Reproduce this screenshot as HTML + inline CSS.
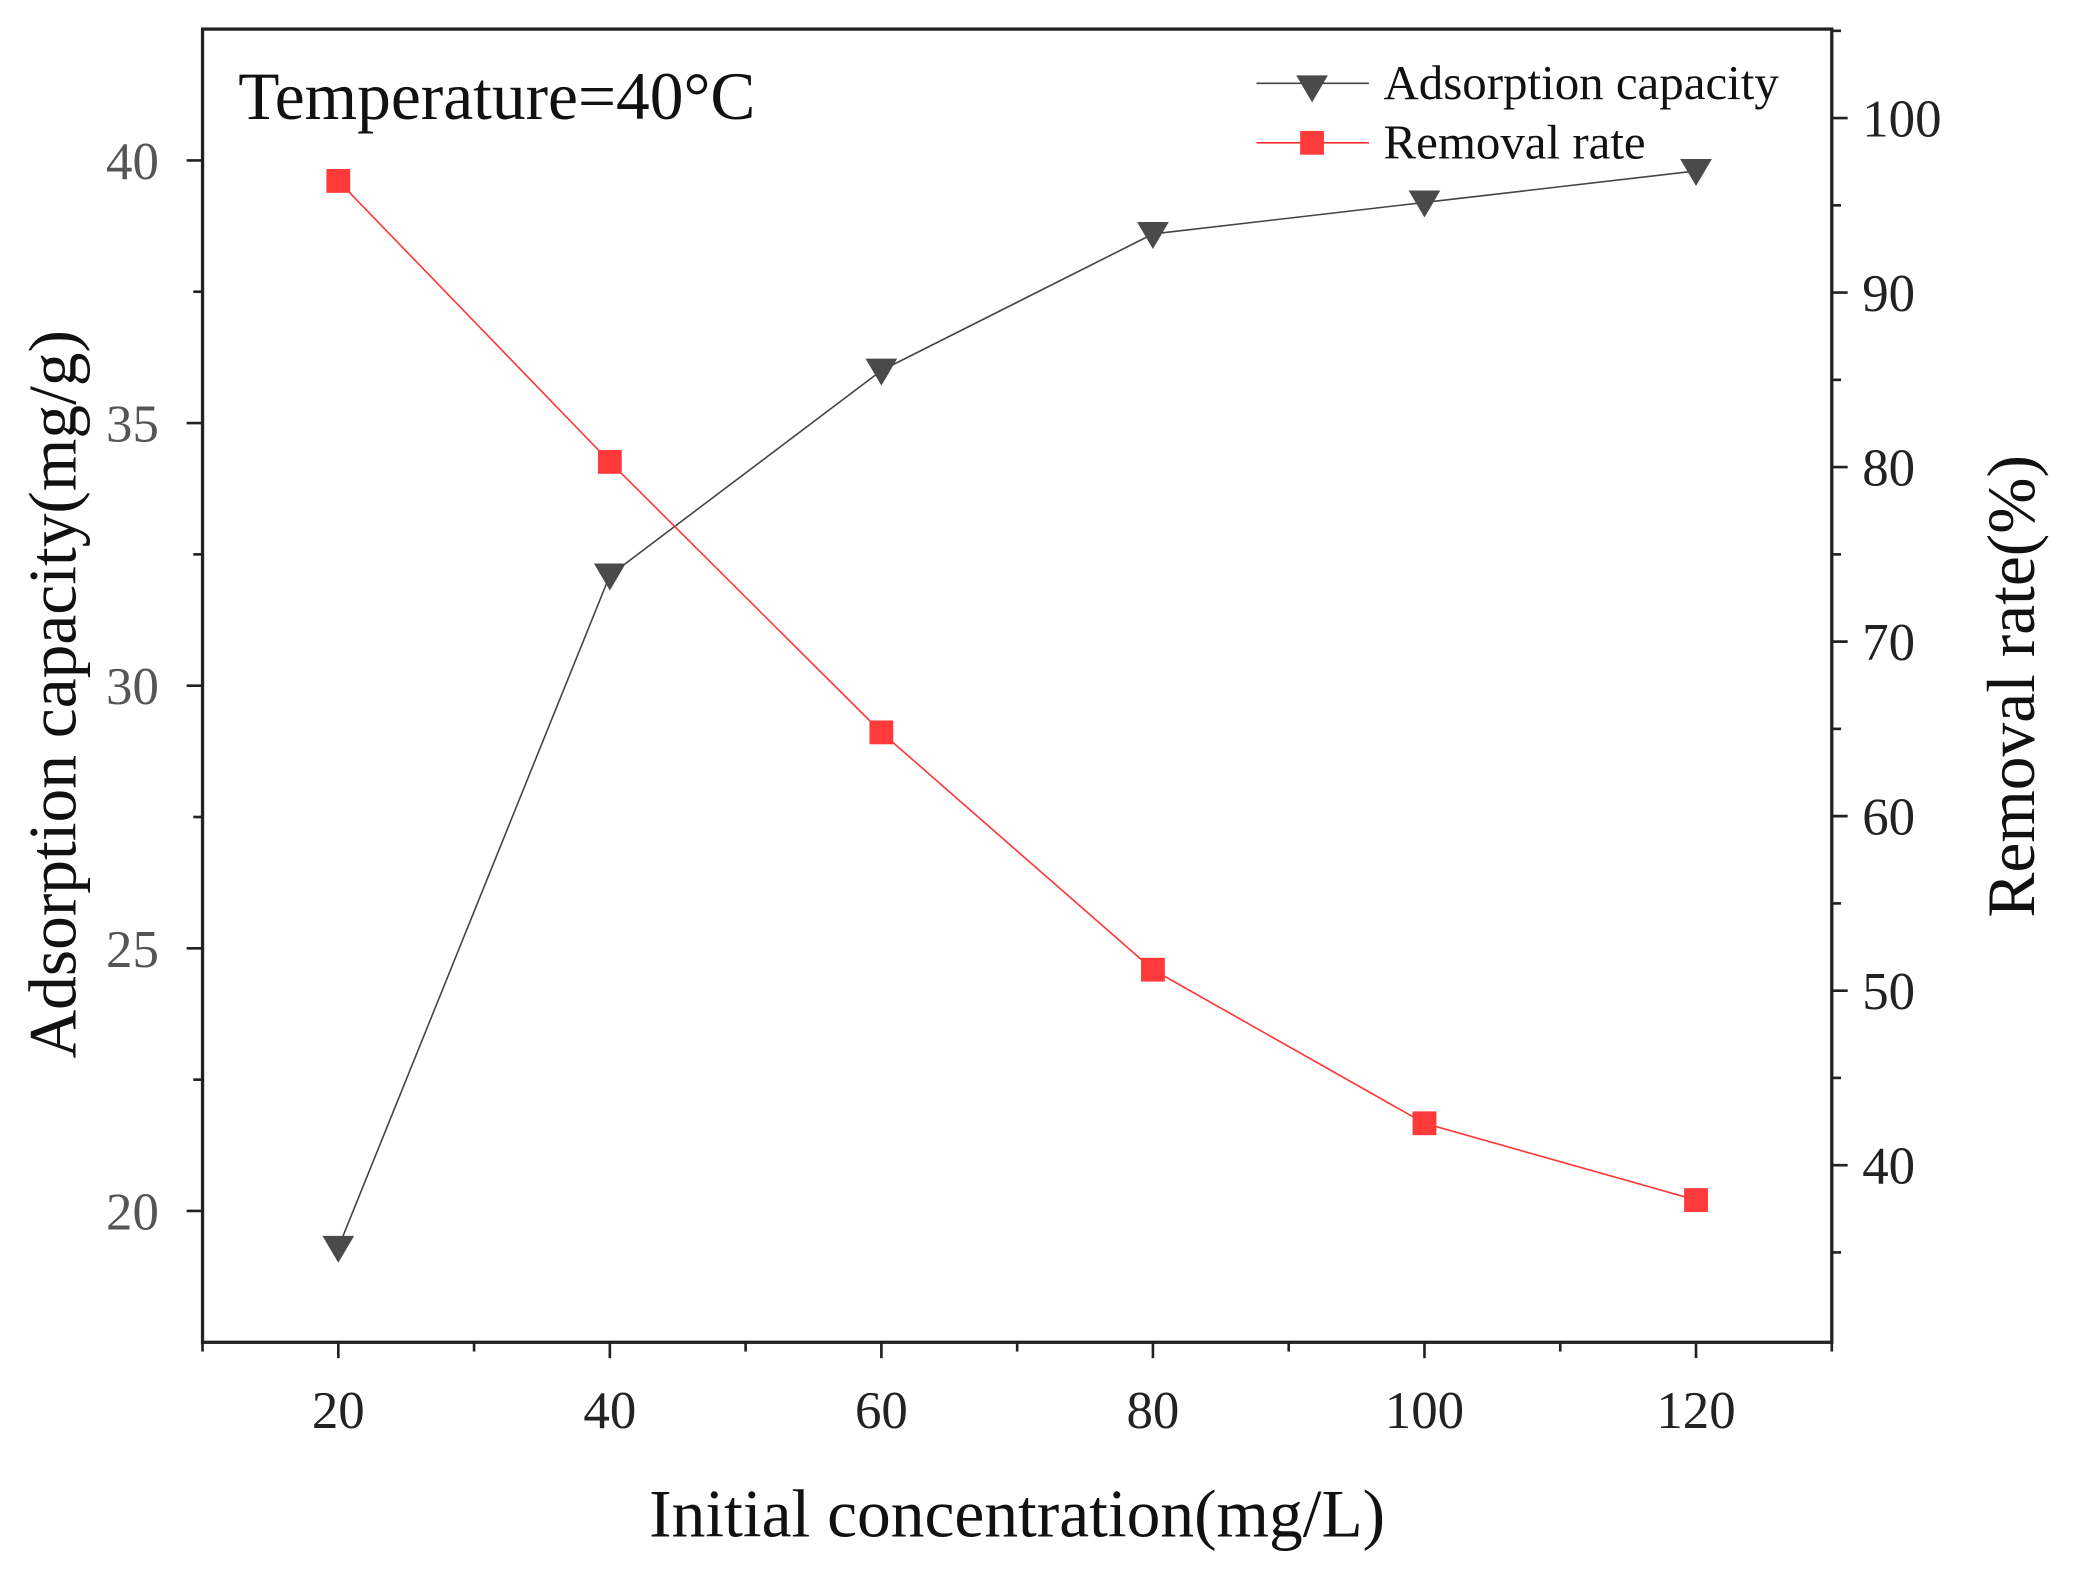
<!DOCTYPE html>
<html><head><meta charset="utf-8"><style>
html,body{margin:0;padding:0;background:#fff;}
svg{display:block;font-family:"Liberation Serif",serif;}
</style></head><body>
<svg id="chart" width="2074" height="1579" viewBox="0 0 1568 1194" xmlns="http://www.w3.org/2000/svg">
<rect x="0" y="0" width="1568" height="1194" fill="#fff"/>
<g id="axes"></g>
<g id="series"></g>
</svg>
<script>
const categories = [20, 40, 60, 80, 100, 120];
const adsorption = [19.3, 32.1, 36.0, 38.6, 39.2, 39.8];
const removal = [96.4, 80.3, 64.8, 51.2, 42.4, 38.0];
const xTicks = [20, 40, 60, 80, 100, 120];
const leftTicks = [20, 25, 30, 35, 40];
const rightTicks = [40, 50, 60, 70, 80, 90, 100];

const L=153,R=1385,T=22,B=1015;
const xs=v=>L+(v-10)/(130-10)*(R-L);
const yl=v=>T+(42.5-v)/(42.5-17.5)*(B-T);
const yr=v=>T+(105.1-v)/(105.1-29.85)*(B-T);
const NS='http://www.w3.org/2000/svg';
const ax=document.getElementById('axes'), se=document.getElementById('series');
function mk(tag,attrs,parent,text){const e=document.createElementNS(NS,tag);for(const k in attrs)e.setAttribute(k,attrs[k]);if(text!==undefined)e.textContent=text;parent.appendChild(e);return e;}

let f=mk('rect',{x:L,y:T,width:R-L,height:B-T,fill:'none',stroke:'#222','stroke-width':2.5},ax);



for(let v=10;v<=130;v+=10){const major=xTicks.includes(v);
 let t=mk('line',{x1:xs(v),x2:xs(v),y1:B,y2:B+(major?12:7),stroke:'#222','stroke-width':2},ax);
 
 
 if(major){let l=mk('text',{x:xs(v),y:1080,'font-size':40,'text-anchor':'middle',fill:'#222'},ax,String(v));
 
 }}
for(let v=17.5;v<=42.5;v+=2.5){const major=leftTicks.includes(v);
 if(v===17.5||v===42.5)continue;
 let t=mk('line',{x1:L-(major?12:7),x2:L,y1:yl(v),y2:yl(v),stroke:'#222','stroke-width':2},ax);
 
 
 if(major){let l=mk('text',{x:120,y:yl(v)+14,'font-size':40,'text-anchor':'end',fill:'#555'},ax,String(v));
 
 }}
for(let v=35;v<=105;v+=5){const major=rightTicks.includes(v);
 let t=mk('line',{x1:R,x2:R+(major?12:7),y1:yr(v),y2:yr(v),stroke:'#222','stroke-width':2},ax);
 
 
 if(major){let l=mk('text',{x:1408,y:yr(v)+14,'font-size':40,'text-anchor':'start',fill:'#222'},ax,String(v));
 
 }}

let xt=mk('text',{x:769,y:1162,'font-size':51,'text-anchor':'middle',fill:'#111'},ax,'Initial concentration(mg/L)');


let ylt=mk('text',{x:0,y:0,'font-size':51,'text-anchor':'middle',fill:'#111',transform:'translate(57,525) rotate(-90)'},ax,'Adsorption capacity(mg/g)');


let yrt=mk('text',{x:0,y:0,'font-size':51,'text-anchor':'middle',fill:'#111',transform:'translate(1538,519) rotate(-90)'},ax,'Removal rate(%)');


let tt=mk('text',{x:180,y:90,'font-size':51,fill:'#111'},ax,'Temperature=40°C');



function tri(x,y,s,p,n){let e=mk('path',{d:`M${x-s},${y-s*0.75} L${x+s},${y-s*0.75} L${x},${y+s*0.95} Z`,fill:'#4a4a4a'},p);
 
 }
function sq(x,y,s,p,n){let e=mk('rect',{x:x-s,y:y-s,width:2*s,height:2*s,fill:'#ff3a3a'},p);
 
 }

let l1=mk('polyline',{points:categories.map((c,i)=>xs(c)+','+yl(adsorption[i])).join(' '),fill:'none',stroke:'#444','stroke-width':1.2},se);


let l2=mk('polyline',{points:categories.map((c,i)=>xs(c)+','+yr(removal[i])).join(' '),fill:'none',stroke:'#ff3333','stroke-width':1.2},se);


categories.forEach((c,i)=>{tri(xs(c),yl(adsorption[i]),12,se,'adsorption-point');sq(xs(c),yr(removal[i]),9,se,'removal-point');});

let lg=mk('g',{},se);


let a=mk('line',{x1:950,x2:1035,y1:63,y2:63,stroke:'#444','stroke-width':1.2},lg);


tri(992,66,12,lg,'legend-adsorption-marker');
let at=mk('text',{x:1046,y:75,'font-size':37,fill:'#111'},lg,'Adsorption capacity');


let b=mk('line',{x1:950,x2:1035,y1:108,y2:108,stroke:'#ff3333','stroke-width':1.2},lg);


sq(992,108,9,lg,'legend-removal-marker');
let bt=mk('text',{x:1046,y:120,'font-size':37,fill:'#111'},lg,'Removal rate');


</script>
</body></html>
